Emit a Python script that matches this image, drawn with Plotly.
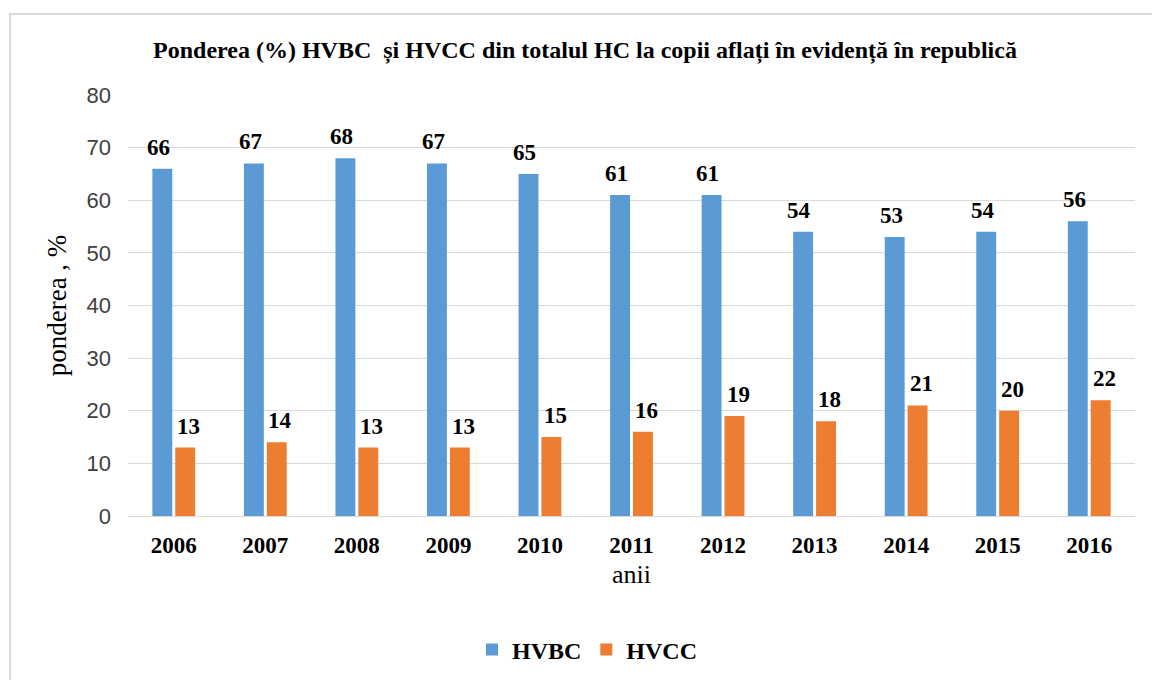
import plotly.graph_objects as go

years = ["2006", "2007", "2008", "2009", "2010", "2011", "2012", "2013", "2014", "2015", "2016"]
hvbc = [66, 67, 68, 67, 65, 61, 61, 54, 53, 54, 56]
hvcc = [13, 14, 13, 13, 15, 16, 19, 18, 21, 20, 22]

BLUE = "#5b9bd5"
ORANGE = "#ed7d31"
SERIF = "Liberation Serif, Times New Roman, serif"
SANS = "Liberation Sans, Arial, sans-serif"

fig = go.Figure()
fig.add_trace(go.Bar(name="<b>HVBC</b>", x=years, y=hvbc, marker_color=BLUE, marker_line_width=0))
fig.add_trace(go.Bar(name="<b>HVCC</b>", x=years, y=hvcc, marker_color=ORANGE, marker_line_width=0))

# value labels above each bar
annotations = []
for i, yr in enumerate(years):
    for val, off in ((hvbc[i], -0.165), (hvcc[i], 0.165)):
        annotations.append(dict(
            x=i + off, y=val, xref="x", yref="y", text=f"<b>{val}</b>",
            showarrow=False, yanchor="bottom", yshift=7,
            font=dict(family=SERIF, size=23, color="#000000"),
        ))

fig.update_layout(
    width=1152, height=680,
    margin=dict(l=128, r=17, t=95, b=164, autoexpand=False),
    paper_bgcolor="white", plot_bgcolor="white",
    barmode="group", bargap=0.5, bargroupgap=0.13,
    title=dict(
        text="<b>Ponderea (%) HVBC  și HVCC din totalul HC la copii aflați în evidență în republică</b>",
        x=585 / 1152, xanchor="center", y=1 - 50 / 680, yanchor="middle",
        font=dict(family=SERIF, size=24, color="#000000"),
    ),
    xaxis=dict(
        type="category", showgrid=False, showline=True, linecolor="#d9d9d9", linewidth=1,
        ticks="", ticklabelstandoff=8, automargin=False,
        tickfont=dict(family=SERIF, size=23, color="#000000"),
        tickprefix="<b>", ticksuffix="</b>",
        title=dict(text="anii", font=dict(family=SERIF, size=26, color="#000000"), standoff=8),
    ),
    yaxis=dict(
        range=[0, 80], dtick=10, showgrid=True, gridcolor="#d9d9d9", gridwidth=1,
        zeroline=False, showline=False, ticks="", ticklabelstandoff=16, automargin=False,
        tickfont=dict(family=SANS, size=22, color="#404040"),
        title=dict(text="ponderea , %", font=dict(family=SERIF, size=27, color="#000000"), standoff=12),
    ),
    legend=dict(
        orientation="h", x=(472 - 128) / 1007, xanchor="left", y=-(650 - 516) / 421, yanchor="middle",
        font=dict(family=SERIF, size=24, color="#000000"),
        traceorder="normal", itemwidth=30,
    ),
    annotations=annotations,
    shapes=[dict(
        type="rect", xref="paper", yref="paper",
        x0=(10 - 128) / 1007, x1=1 + (1200 - 1135) / 1007,
        y0=-(720 - 516) / 421, y1=1 + (95 - 14) / 421,
        line=dict(color="#d9d9d9", width=2), fillcolor="rgba(0,0,0,0)", layer="below",
    )],
)

fig.write_html("out.html")
